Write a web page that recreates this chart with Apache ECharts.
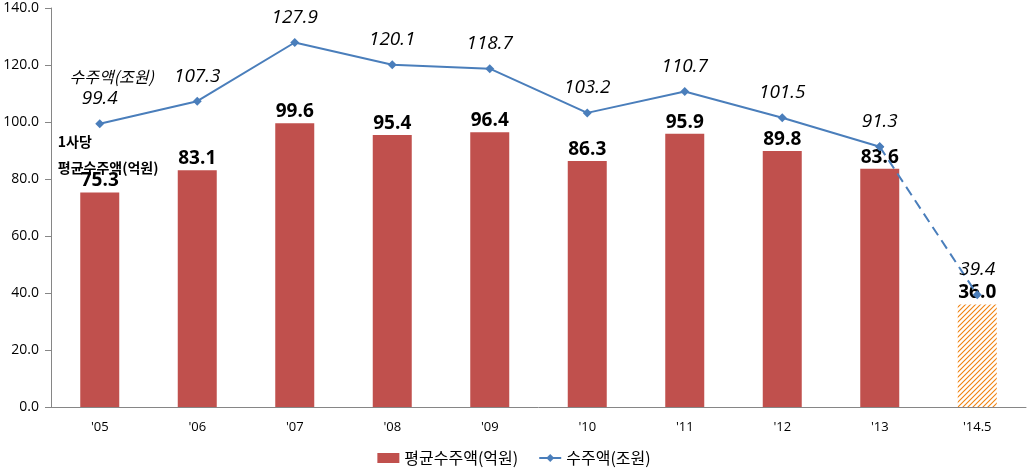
<!DOCTYPE html>
<html><head><meta charset="utf-8">
<script src="https://cdn.jsdelivr.net/npm/echarts@6/dist/echarts.min.js"></script>
<style>html,body{margin:0;padding:0;background:#fff}#c{width:1028px;height:475px}</style>
</head><body><div id="c"></div>
<script>
var categories = ["'05","'06","'07","'08","'09","'10","'11","'12","'13","'14.5"];
var avgOrders = [75.3,83.1,99.6,95.4,96.4,86.3,95.9,89.8,83.6,36.0];
var totalOrders = [99.4,107.3,127.9,120.1,118.7,103.2,110.7,101.5,91.3,39.4];
var yTicks = {min:0, max:140, interval:20};
var barName = '평균수주액(억원)';
var lineName = '수주액(조원)';

var FONT = '"Open Sans","Noto Sans CJK KR","Noto Sans",sans-serif';
var KFONT = '"Noto Sans CJK KR","Noto Sans",sans-serif';
// hatch pattern
var pc = document.createElement('canvas');
pc.width = 5; pc.height = 5;
var g = pc.getContext('2d');
g.fillStyle = '#fff'; g.fillRect(0,0,5,5);
g.strokeStyle = '#F0820F'; g.lineWidth = 1.1;
g.beginPath();
g.moveTo(0,5); g.lineTo(5,0);
g.moveTo(-2.5,2.5); g.lineTo(2.5,-2.5);
g.moveTo(2.5,7.5); g.lineTo(7.5,2.5);
g.stroke();

var last = categories.length - 1;
var barData = avgOrders.map(function(v,i){
  if (i === last) return {value:v, itemStyle:{color:{image:pc, repeat:'repeat'}}};
  return v;
});
var solid = totalOrders.map(function(v,i){ return i < last ? v : null; });
var dashed = totalOrders.map(function(v,i){ return i >= last-1 ? v : null; });

var chart = echarts.init(document.getElementById('c'));
chart.setOption({
  animation:false,
  textStyle:{fontFamily:FONT},
  grid:{left:51, right:2, top:8, bottom:68, containLabel:false},
  legend:{
    bottom:4, left:'center', itemWidth:22, itemHeight:10, itemGap:20,
    textStyle:{fontSize:16, color:'#000', fontFamily:KFONT},
    data:[{name:barName, icon:'rect'}, {name:lineName}]
  },
  xAxis:{
    type:'category', data:categories,
    axisLine:{lineStyle:{color:'#868686'}},
    axisTick:{length:5, lineStyle:{color:'#868686'}},
    axisLabel:{color:'#000', fontSize:13, margin:14, fontFamily:FONT}
  },
  yAxis:{
    type:'value', min:yTicks.min, max:yTicks.max, interval:yTicks.interval,
    splitLine:{show:false},
    axisLine:{show:true, lineStyle:{color:'#868686'}},
    axisTick:{show:true, length:6, lineStyle:{color:'#868686'}},
    axisLabel:{color:'#000', fontSize:14, margin:12, fontFamily:FONT,
      formatter:function(v){return v.toFixed(1);}}
  },
  series:[
    {
      name:barName, type:'bar', data:barData, barWidth:39,
      itemStyle:{color:'#C0504D'},
      label:{show:true, position:'top', distance:2, color:'#000', fontWeight:'bold', fontSize:19,
        fontFamily:FONT, formatter:function(p){return p.value.toFixed(1);}}
    },
    {
      name:lineName, type:'line', data:solid, symbol:'diamond', symbolSize:9,
      lineStyle:{color:'#4A7EBB', width:2}, itemStyle:{color:'#4A7EBB'},
      label:{show:true, position:'top', distance:11, color:'#000', fontStyle:'italic', fontSize:19,
        fontFamily:FONT,
        formatter:function(p){
          if (p.dataIndex === 0) return '{a|수주액(조원)}\n{b|' + p.value.toFixed(1) + '}';
          return p.value.toFixed(1);
        },
        rich:{
          a:{fontStyle:'italic', fontSize:16, color:'#000', padding:[0,0,4,24], fontFamily:KFONT},
          b:{fontStyle:'italic', fontSize:19, color:'#000', fontFamily:FONT}
        }
      },
      z:3
    },
    {
      name:lineName+'_d', type:'line', data:dashed, symbol:'diamond', symbolSize:9,
      lineStyle:{color:'#4A7EBB', width:2, type:[10,6]}, itemStyle:{color:'#4A7EBB'},
      label:{show:true, position:'top', distance:11, color:'#000', fontStyle:'italic', fontSize:19,
        fontFamily:FONT,
        formatter:function(p){ return p.dataIndex === last ? p.value.toFixed(1) : ''; }},
      z:3
    }
  ]
});
var p0 = chart.convertToPixel({xAxisIndex:0, yAxisIndex:0}, [0, avgOrders[0]]);
chart.setOption({
  graphic:[{
    type:'text', left:p0[0]-42, top:p0[1]-64,
    style:{text:'1사당\n평균수주액(억원)', fontFamily:KFONT, fontWeight:'bold', fontSize:14,
      lineHeight:26, fill:'#000'}
  }]
});
</script></body></html>
